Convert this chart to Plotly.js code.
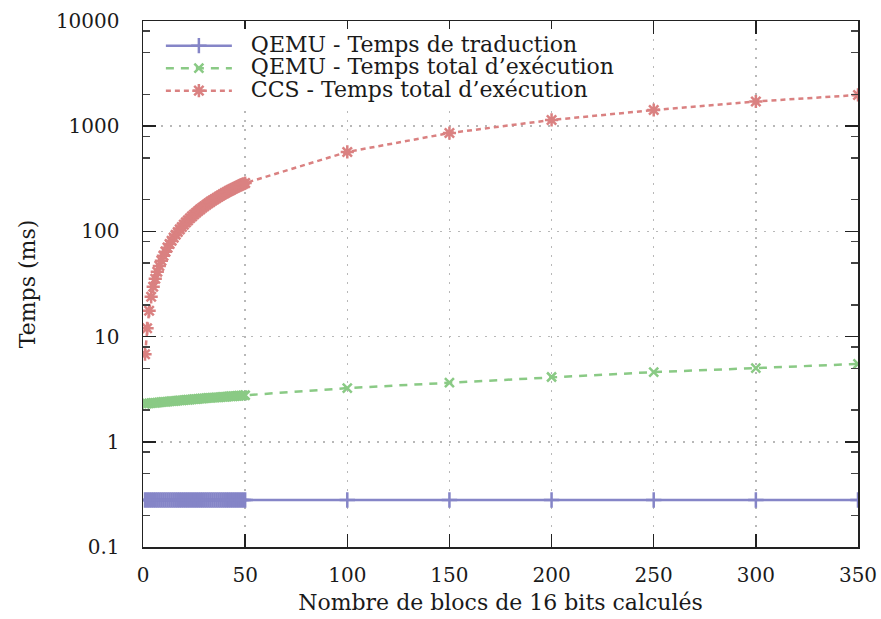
<!DOCTYPE html>
<html>
<head>
<meta charset="utf-8">
<script src="https://cdn.plot.ly/plotly-3.0.1.min.js"></script>
<style>html,body{margin:0;padding:0;background:#fff;}#chart{width:881px;height:619px;}</style>
</head>
<body>
<div id="chart"></div>
<script>
// Number of 16-bit blocks computed
const blocks = [1,2,3,4,5,6,7,8,9,10,11,12,13,14,15,16,17,18,19,20,21,22,23,24,25,
  26,27,28,29,30,31,32,33,34,35,36,37,38,39,40,41,42,43,44,45,46,47,48,49,50,
  100,150,200,250,300,350];

// QEMU - translation time (ms)
const qemuTrad = [0.28,0.28,0.28,0.28,0.28,0.28,0.28,0.28,0.28,0.28,0.28,0.28,0.28,0.28,0.28,0.28,0.28,0.28,0.28,0.28,0.28,0.28,0.28,0.28,0.28,
  0.28,0.28,0.28,0.28,0.28,0.28,0.28,0.28,0.28,0.28,0.28,0.28,0.28,0.28,0.28,0.28,0.28,0.28,0.28,0.28,0.28,0.28,0.28,0.28,0.28,
  0.28,0.28,0.28,0.28,0.28,0.28];

// QEMU - total execution time (ms)
const qemuTotal = [2.30,2.31,2.32,2.33,2.34,2.35,2.36,2.37,2.38,2.39,2.40,2.41,2.42,2.43,2.44,2.45,2.46,2.47,2.48,2.49,2.50,2.51,2.52,2.53,2.54,
  2.55,2.56,2.57,2.58,2.59,2.60,2.61,2.62,2.63,2.63,2.64,2.65,2.66,2.67,2.68,2.69,2.70,2.71,2.71,2.72,2.73,2.74,2.75,2.76,2.77,
  3.24,3.65,4.13,4.60,5.02,5.50];

// CCS - total execution time (ms)
const ccsTotal = [6.8,12.0,17.6,23.9,29.8,35.5,41.3,47.0,52.7,58.6,64.2,70.1,75.8,81.4,87.3,93.0,98.7,104.5,110.2,116.0,121.8,127.4,133.2,139.0,144.7,
  150.5,156.2,162.0,167.8,173.4,179.2,185.0,190.7,196.5,202.2,208.0,213.7,219.5,225.2,231.0,236.8,242.5,248.2,254.0,259.7,265.5,271.2,277.0,282.7,288.0,
  569,861,1146,1426,1717,1981];

const seriesNames = ["QEMU - Temps de traduction", "QEMU - Temps total d’exécution", "CCS - Temps total d’exécution"];
const xTicks = [0,50,100,150,200,250,300,350];
const yTicks = [0.1,1,10,100,1000,10000];
const yTickText = ["0.1","1","10","100","1000","10000"];
const yMinor = [0.2,0.5,0.8,2,5,8,20,50,80,200,500,800,2000,5000,8000];

const FONT = "DejaVu Serif";
const FS = 22;
const TXT = "#1a1a1a";
const legendName = s => '<span style="font-size:' + FS + 'px">\u00a0\u00a0' + s + '</span>';

const traces = [
  {x: blocks, y: qemuTrad, name: legendName(seriesNames[0]), type: "scatter", mode: "lines+markers",
   line: {color: "#8585c7", width: 2.5},
   marker: {symbol: "cross-thin-open", size: 11, color: "#8585c7", line: {color: "#8585c7", width: 2.5}}},
  {x: blocks, y: qemuTotal, name: legendName(seriesNames[1]), type: "scatter", mode: "lines+markers",
   line: {color: "#8aca85", width: 2.5, dash: "8px,7px"},
   marker: {symbol: "x-thin-open", size: 9, color: "#8aca85", line: {color: "#8aca85", width: 2.5}}},
  {x: blocks, y: ccsTotal, name: legendName(seriesNames[2]), type: "scatter", mode: "lines+markers",
   line: {color: "#da8181", width: 2.5, dash: "5px,4px"},
   marker: {symbol: "asterisk-open", size: 11, color: "#da8181", line: {color: "#da8181", width: 2.5}}},
  // invisible helpers so that the minor-tick axes (left and right) are drawn
  {x: blocks, y: ccsTotal, yaxis: "y2", mode: "none", type: "scatter", showlegend: false, hoverinfo: "skip"},
  {x: blocks, y: ccsTotal, yaxis: "y3", mode: "none", type: "scatter", showlegend: false, hoverinfo: "skip"}
];

const axisFont = {family: FONT, size: FS, color: TXT};
const tickFont = {family: FONT, size: 20, color: TXT};
const minorAxis = side => ({type: "log", range: [-1, 4], overlaying: "y", anchor: "x", side: side,
    tickmode: "array", tickvals: yMinor, showticklabels: false,
    ticks: "inside", ticklen: 7, tickwidth: 1.5, tickcolor: "#444",
    showline: false, showgrid: false, zeroline: false});

const layout = {
  width: 881, height: 619,
  margin: {l: 143, r: 23, t: 21, b: 72},
  paper_bgcolor: "#fff", plot_bgcolor: "#fff",
  font: {family: FONT, size: FS, color: TXT},
  showlegend: true,
  legend: {x: 0.025, y: 0.984, xanchor: "left", yanchor: "top",
    bgcolor: "#fff", borderwidth: 0, itemwidth: 66,
    font: {family: FONT, size: 15, color: TXT}, tracegroupgap: 0},
  xaxis: {range: [0, 350], tickvals: xTicks, ticks: "inside", ticklen: 13, tickwidth: 1.5, tickcolor: "#222",
    showline: true, linecolor: "#222", linewidth: 1.5, mirror: "ticks",
    showgrid: true, gridcolor: "#b8b8b8", gridwidth: 1.5, griddash: "2px,7px",
    zeroline: false, ticklabelstandoff: 9, tickfont: tickFont,
    title: {text: "Nombre de blocs de 16 bits calculés", font: axisFont, standoff: 9}},
  yaxis: {type: "log", range: [-1, 4], tickmode: "array", tickvals: yTicks, ticktext: yTickText,
    ticks: "inside", ticklen: 13, tickwidth: 1.5, tickcolor: "#222",
    showline: true, linecolor: "#222", linewidth: 1.5, mirror: "ticks",
    showgrid: true, gridcolor: "#b8b8b8", gridwidth: 1.5, griddash: "2px,7px",
    zeroline: false, ticklabelstandoff: 18, tickfont: tickFont,
    title: {text: "Temps (ms)", font: axisFont, standoff: 14}},
  yaxis2: minorAxis("left"),
  yaxis3: minorAxis("right")
};

Plotly.newPlot("chart", traces, layout, {displayModeBar: false, staticPlot: true});
</script>
</body>
</html>
